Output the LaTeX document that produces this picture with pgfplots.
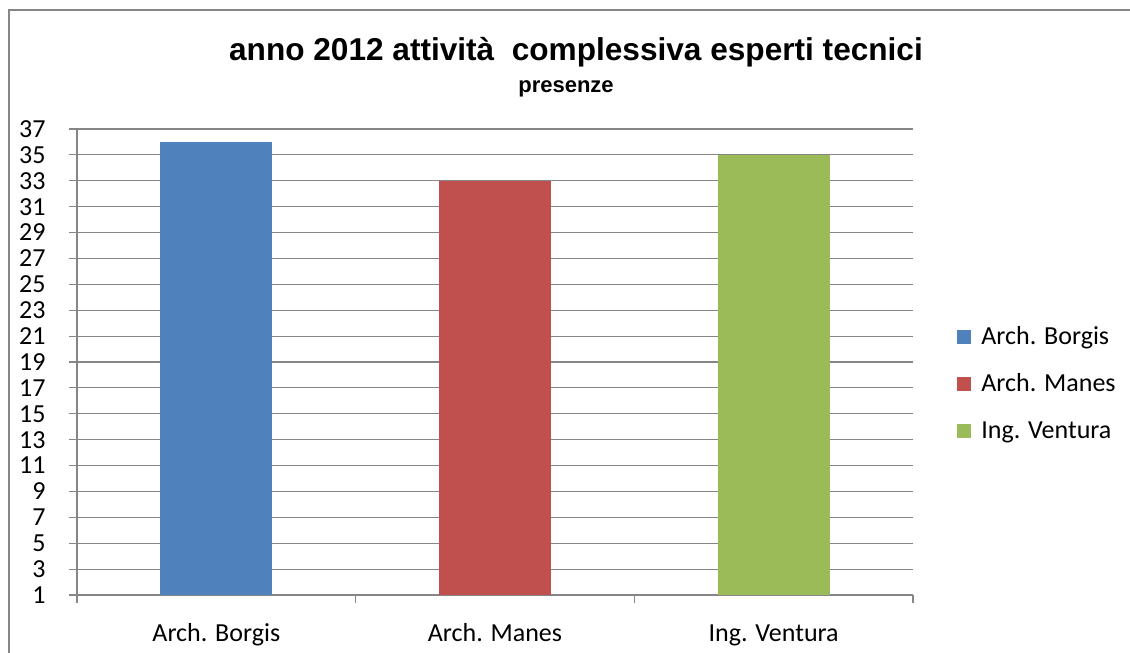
\documentclass[border=0pt]{standalone}
\usepackage{fontspec}
\setmainfont{Carlito}
\newfontfamily\titlefont{Liberation Sans}
\usepackage{pgfplots}
\pgfplotsset{compat=1.18}
\definecolor{cblue}{HTML}{4F81BD}
\definecolor{cred}{HTML}{C0504D}
\definecolor{cgreen}{HTML}{9BBB59}
\definecolor{cgrid}{HTML}{868686}
\begin{document}
\begin{tikzpicture}
\useasboundingbox (0pt,0pt) rectangle (565pt,-326.5pt);
\draw[cgrid, line width=0.6pt] (4.5pt,-330pt) -- (4.5pt,-5pt) -- (570pt,-5pt);
\node[font=\titlefont\bfseries\fontsize{15.8}{18}\selectfont, anchor=base] at (288pt,-30pt) {anno 2012 attività\ \ complessiva esperti tecnici};
\node[font=\titlefont\bfseries\fontsize{11}{13}\selectfont, anchor=base] at (283pt,-46pt) {presenze};
\begin{axis}[
  at={(38.5pt,-297.5pt)}, anchor=south west,
  scale only axis, width=418pt, height=233pt,
  font=\fontsize{13}{15}\selectfont,
  /pgf/number format/assume math mode=true,
  ybar, bar width=56pt, bar shift=0pt,
  xmin=-0.5, xmax=2.5, ymin=1, ymax=37,
  ytick={1,3,...,37},
  xtick={-0.5,0.5,1.5,2.5}, xticklabels={},
  extra x ticks={0,1,2},
  extra x tick labels={Arch. Borgis, Arch. Manes, Ing. Ventura},
  extra x tick style={major tick length=0pt, grid=none},
  axis lines*=left,
  axis line style={cgrid, line width=0.6pt},
  tick style={cgrid, line width=0.6pt},
  tick align=outside, major tick length=4pt,
  ymajorgrids, grid style={cgrid, line width=0.6pt},
  yticklabel style={anchor=east, inner sep=0pt, xshift=-11.5pt},
  xticklabel style={anchor=north, inner sep=0pt, yshift=-13pt, text height=10pt, text depth=3pt},
  legend style={at={(1,0.4528)}, anchor=west, xshift=22pt, draw=none, fill=none,
    inner sep=0pt, row sep=10.5pt, column sep=5pt,
    nodes={inner sep=0pt, text height=10pt, text depth=3pt}},
  legend cell align=left,
  legend image code/.code={\fill[#1] (0pt,-3.5pt) rectangle (7pt,3.5pt);},
]
\addplot[fill=cblue, draw=none] coordinates {(0,36)};
\addplot[fill=cred, draw=none] coordinates {(1,33)};
\addplot[fill=cgreen, draw=none] coordinates {(2,35)};
\legend{Arch. Borgis, Arch. Manes, Ing. Ventura}
\end{axis}
\end{tikzpicture}
\end{document}
